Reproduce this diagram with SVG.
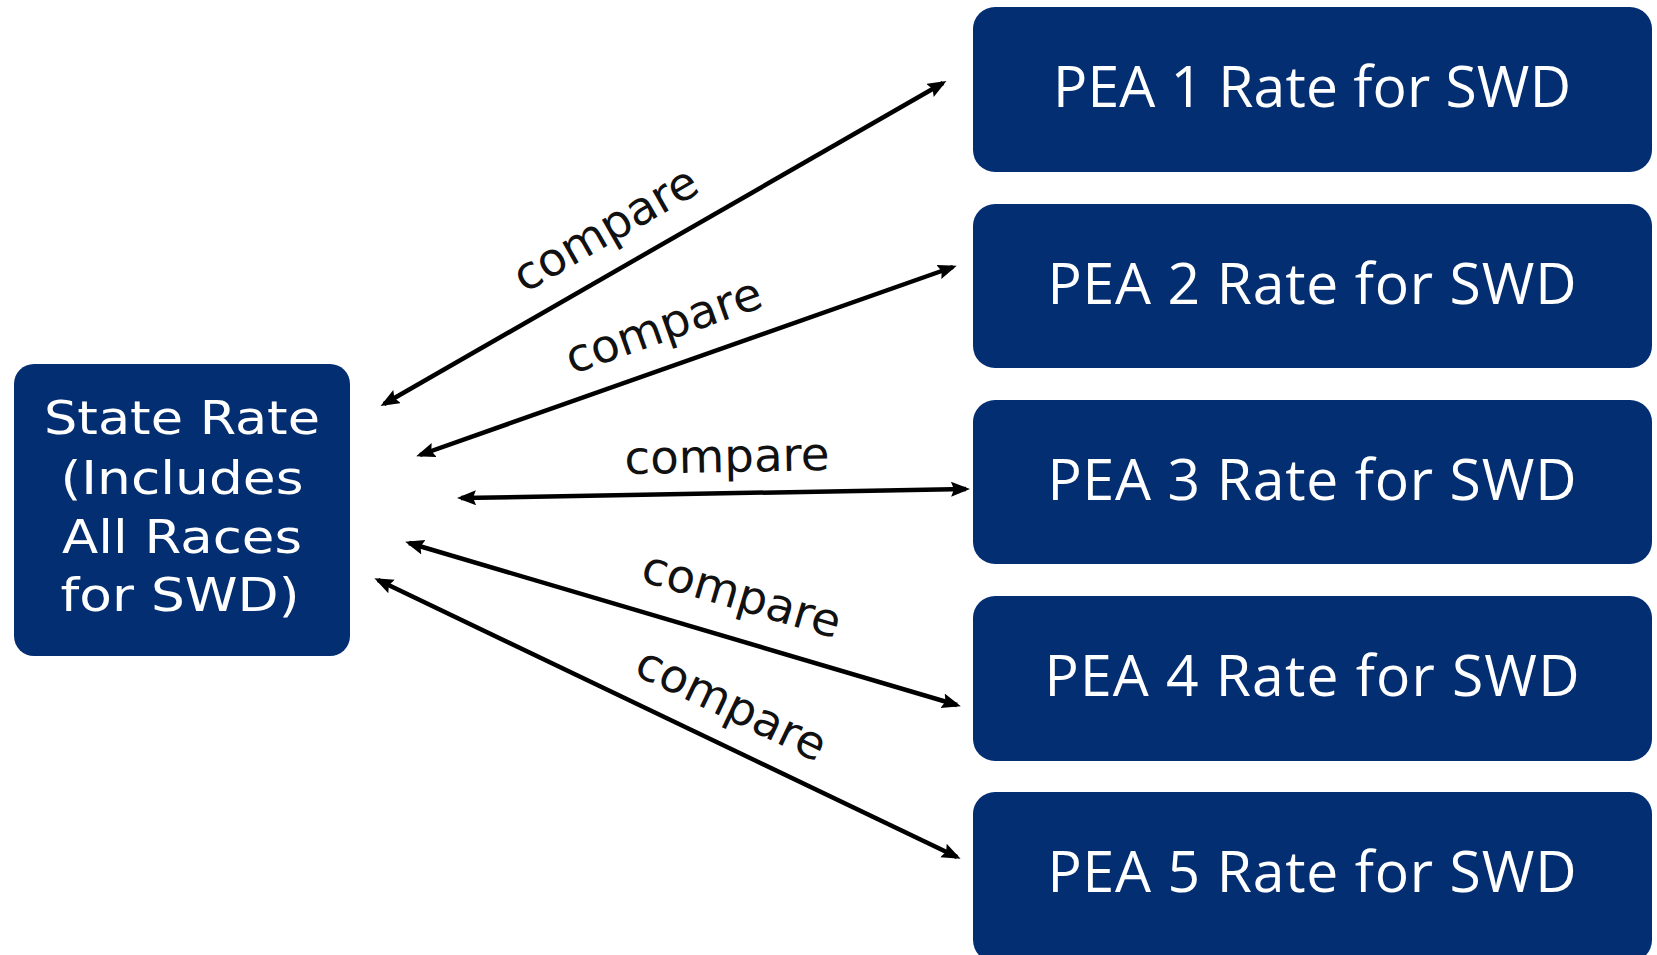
<svg xmlns="http://www.w3.org/2000/svg" width="1657" height="955" viewBox="0 0 1657 955">
  <style>
    .box { fill: #032e72; }
    .boxText { fill: #ffffff; text-anchor: middle; }
    .pea { font-family: "Open Sans", "Liberation Sans", sans-serif; font-size: 57px; }
    .state { font-family: "DejaVu Sans", "Open Sans", sans-serif; font-size: 47px; }
    .link { stroke: #000000; stroke-width: 4.5; fill: none; marker-start: url(#head); marker-end: url(#head); }
    .label { font-family: "DejaVu Sans", "Open Sans", sans-serif; font-size: 46px; fill: #111111; text-anchor: middle; }
  </style>
  <defs>
    <marker id="head" markerUnits="userSpaceOnUse" markerWidth="20" markerHeight="16" refX="15" refY="7.5" orient="auto-start-reverse">
      <path d="M0,0 L19,7.5 L0,15 L3,7.5 z" fill="#000000"/>
    </marker>
  </defs>
  <rect width="1657" height="955" fill="#ffffff"/>

  <!-- state node -->
  <g id="state">
    <rect class="box" x="14" y="364" width="336" height="292" rx="20"/>
    <text class="boxText state" x="182" y="434" textLength="276" lengthAdjust="spacingAndGlyphs">State Rate</text>
    <text class="boxText state" x="182" y="494" textLength="243" lengthAdjust="spacingAndGlyphs">(Includes</text>
    <text class="boxText state" x="182" y="553" textLength="240" lengthAdjust="spacingAndGlyphs">All Races</text>
    <text class="boxText state" x="180" y="611" textLength="239" lengthAdjust="spacingAndGlyphs">for SWD)</text>
  </g>

  <!-- PEA nodes -->
  <g id="pea1">
    <rect class="box" x="973" y="7" width="679" height="165" rx="22"/>
    <text class="boxText pea" x="1312" y="107" textLength="518">PEA 1 Rate for SWD</text>
  </g>
  <g id="pea2">
    <rect class="box" x="973" y="204" width="679" height="164" rx="22"/>
    <text class="boxText pea" x="1312" y="304" textLength="529">PEA 2 Rate for SWD</text>
  </g>
  <g id="pea3">
    <rect class="box" x="973" y="400" width="679" height="164" rx="22"/>
    <text class="boxText pea" x="1312" y="500" textLength="529">PEA 3 Rate for SWD</text>
  </g>
  <g id="pea4">
    <rect class="box" x="973" y="596" width="679" height="165" rx="22"/>
    <text class="boxText pea" x="1312" y="696" textLength="535">PEA 4 Rate for SWD</text>
  </g>
  <g id="pea5">
    <rect class="box" x="973" y="792" width="679" height="170" rx="22"/>
    <text class="boxText pea" x="1312" y="892" textLength="529">PEA 5 Rate for SWD</text>
  </g>

  <!-- two-way comparison connectors -->
  <g id="connectors">
    <line class="link" x1="384" y1="404" x2="943" y2="83"/>
    <line class="link" x1="420" y1="455" x2="953" y2="267"/>
    <line class="link" x1="461" y1="498" x2="966" y2="489"/>
    <line class="link" x1="409" y1="543" x2="957" y2="705"/>
    <line class="link" x1="378" y1="580" x2="957" y2="857"/>

    <text class="label" transform="translate(607,232) rotate(-29.9)" x="0" y="12" textLength="205" lengthAdjust="spacingAndGlyphs">compare</text>
    <text class="label" transform="translate(665,330) rotate(-19.5)" x="0" y="11" textLength="205" lengthAdjust="spacingAndGlyphs">compare</text>
    <text class="label" transform="translate(727,460) rotate(-1.1)" x="0" y="12" textLength="205" lengthAdjust="spacingAndGlyphs">compare</text>
    <text class="label" transform="translate(740,600) rotate(16.5)" x="0" y="10" textLength="205" lengthAdjust="spacingAndGlyphs">compare</text>
    <text class="label" transform="translate(729,709) rotate(25.6)" x="0" y="10" textLength="205" lengthAdjust="spacingAndGlyphs">compare</text>
  </g>
</svg>
